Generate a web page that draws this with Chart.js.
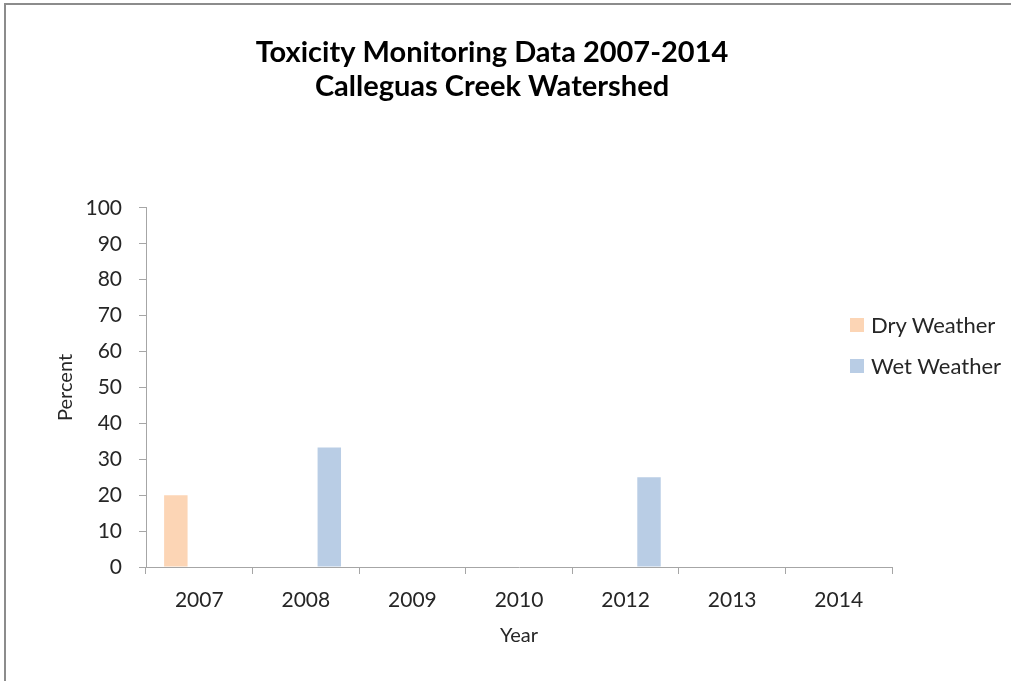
<!DOCTYPE html>
<html>
<head>
<meta charset="utf-8">
<title>Toxicity Monitoring Data 2007-2014</title>
<script src="https://cdn.jsdelivr.net/npm/chart.js@4.4.1/dist/chart.umd.min.js"></script>
<style>
  html, body { margin: 0; padding: 0; background: #fff; overflow: hidden; }
  #frame {
    position: absolute; left: 4px; top: 3px; width: 1100px; height: 800px;
    border-left: 2px solid #8c8c8c; border-top: 2px solid #8c8c8c;
  }
  #wrap { position: absolute; left: 0; top: 0; width: 1011px; height: 681px; }
  #legend { position: absolute; left: 850px; top: 304px; font-family: Lato, sans-serif; font-size: 22px; color: #262626; }
  .item { display: flex; align-items: center; height: 41px; white-space: nowrap; }
  .swatch { width: 14px; height: 14px; margin-right: 7px; flex: none; }
</style>
</head>
<body>
<div id="frame"></div>
<div id="wrap">
  <canvas id="toxChart" width="1011" height="681"></canvas>
  <div id="legend"></div>
</div>
<script>
// chart data
const years = ["2007", "2008", "2009", "2010", "2012", "2013", "2014"];
const dryWeather = [20, 0, 0, 0, 0, 0, 0];
const wetWeather = [0, 33.3, 0, 0, 25, 0, 0];
const titleLines = ["Toxicity Monitoring Data 2007-2014", "Calleguas Creek Watershed"];

const axisColor = "#a6a6a6";
const textColor = "#262626";

// nudge the title so it centres like the original (not on the plot width)
const shiftTitle = {
  id: "shiftTitle",
  afterLayout(chart) {
    if (chart.titleBlock) {
      chart.titleBlock.left += 21;
      chart.titleBlock.right += 21;
    }
  },
};

const ctx = document.getElementById("toxChart").getContext("2d");
const chart = new Chart(ctx, {
  type: "bar",
  data: {
    labels: years,
    datasets: [
      { label: "Dry Weather", data: dryWeather, backgroundColor: "#fcd5b5" },
      { label: "Wet Weather", data: wetWeather, backgroundColor: "#b9cde5" },
    ],
  },
  options: {
    responsive: false,
    animation: false,
    categoryPercentage: 0.88,
    barPercentage: 0.5,
    layout: { padding: { left: 50, right: 119, top: 0, bottom: 29 } },
    plugins: {
      legend: { display: false },
      tooltip: { enabled: false },
      title: {
        display: true,
        text: titleLines,
        color: "#000",
        font: { family: "Lato", size: 29, weight: "bold", lineHeight: 1.17 },
        padding: { top: 36, bottom: 104 },
      },
    },
    scales: {
      x: {
        afterFit: (scale) => { scale.height = 85; },
        grid: { drawOnChartArea: false, tickLength: 7, color: axisColor },
        border: { color: axisColor },
        ticks: { color: textColor, font: { family: "Lato", size: 21 }, padding: 14 },
        title: { display: true, text: "Year", color: textColor, font: { family: "Lato", size: 20 } },
      },
      y: {
        min: 0,
        max: 100,
        afterFit: (scale) => { scale.width = 96; },
        grid: { drawOnChartArea: false, tickLength: 7, color: axisColor },
        border: { color: axisColor },
        ticks: { stepSize: 10, color: textColor, font: { family: "Lato", size: 21 }, padding: 17 },
        title: { display: true, text: "Percent", color: textColor, font: { family: "Lato", size: 20 } },
      },
    },
  },
  plugins: [shiftTitle],
});

// legend on the right, built from the datasets
const legendBox = document.getElementById("legend");
chart.data.datasets.forEach((ds) => {
  const item = document.createElement("div");
  item.className = "item";
  item.innerHTML = `<span class="swatch" style="background:${ds.backgroundColor}"></span><span>${ds.label}</span>`;
  legendBox.appendChild(item);
});
</script>
</body>
</html>
